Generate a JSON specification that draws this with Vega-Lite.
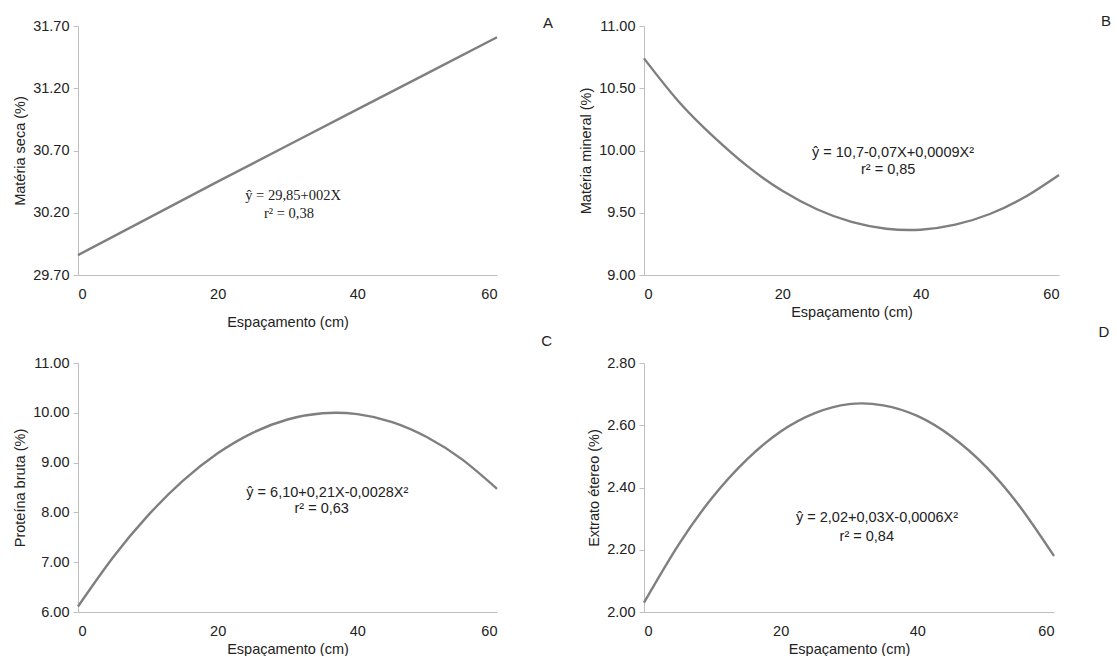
{
  "$schema": "https://vega.github.io/schema/vega-lite/v6.json",
  "background": "white",
  "padding": {"left": 12, "top": 14, "right": 0, "bottom": 0},
  "autosize": {"type": "pad"},
  "bounds": "flush",
  "columns": 2,
  "spacing": {"row": 88, "column": 147},
  "config": {
    "view": {"stroke": null},
    "font": "Liberation Sans",
    "axis": {
      "grid": false,
      "labelFont": "Liberation Sans",
      "labelFontSize": 14.5,
      "labelColor": "#222222",
      "titleFont": "Liberation Sans",
      "titleFontSize": 14.5,
      "titleFontWeight": "normal",
      "titleColor": "#222222",
      "domainColor": "#bfbfbf",
      "tickColor": "#bfbfbf"
    },
    "axisX": {"ticks": false, "labelPadding": 12},
    "axisY": {"tickSize": 5, "labelPadding": 4, "titlePadding": 5}
  },
  "concat": [
    {
      "width": 419,
      "height": 249,
      "layer": [
        {
          "data": {"values": [
            {"x": 0, "y": 29.86}, {"x": 10, "y": 30.155}, {"x": 20, "y": 30.45},
            {"x": 30, "y": 30.74}, {"x": 40, "y": 31.03}, {"x": 50, "y": 31.32}, {"x": 60, "y": 31.61}
          ]},
          "mark": {"type": "line", "color": "#7f7f7f", "strokeWidth": 2.4},
          "encoding": {
            "x": {"field": "x", "type": "quantitative", "scale": {"domain": [0, 60], "nice": false},
                  "axis": {"title": "Espaçamento (cm)", "values": [0, 20, 40, 60], "titlePadding": 15}},
            "y": {"field": "y", "type": "quantitative", "scale": {"domain": [29.7, 31.7], "nice": false, "zero": false},
                  "axis": {"title": "Matéria seca (%)", "values": [29.7, 30.2, 30.7, 31.2, 31.7], "format": ".2f"}}
          }
        },
        {
          "data": {"values": [{}]},
          "mark": {"type": "text", "text": "A", "fontSize": 15, "color": "#222222", "align": "center", "baseline": "middle"},
          "encoding": {"x": {"datum": 67.3}, "y": {"datum": 31.724}}
        },
        {
          "data": {"values": [{}]},
          "mark": {"type": "text", "text": "ŷ = 29,85+002X", "font": "Liberation Serif", "fontSize": 14.5, "color": "#222222", "align": "center", "baseline": "middle"},
          "encoding": {"x": {"datum": 30.8}, "y": {"datum": 30.335}}
        },
        {
          "data": {"values": [{}]},
          "mark": {"type": "text", "text": "r² = 0,38", "font": "Liberation Serif", "fontSize": 14.5, "color": "#222222", "align": "center", "baseline": "middle"},
          "encoding": {"x": {"datum": 30.2}, "y": {"datum": 30.19}}
        }
      ]
    },
    {
      "width": 415,
      "height": 249,
      "layer": [
        {
          "data": {"values": [
            {"x": 0, "y": 10.74}, {"x": 5, "y": 10.394}, {"x": 10, "y": 10.114}, {"x": 15, "y": 9.872},
            {"x": 20, "y": 9.676}, {"x": 25, "y": 9.528}, {"x": 30, "y": 9.426}, {"x": 35, "y": 9.372},
            {"x": 40, "y": 9.364}, {"x": 45, "y": 9.404}, {"x": 50, "y": 9.49}, {"x": 55, "y": 9.624}, {"x": 60, "y": 9.804}
          ]},
          "mark": {"type": "line", "color": "#7f7f7f", "strokeWidth": 2.4, "interpolate": "natural"},
          "encoding": {
            "x": {"field": "x", "type": "quantitative", "scale": {"domain": [0, 60], "nice": false},
                  "axis": {"title": "Espaçamento (cm)", "values": [0, 20, 40, 60], "titlePadding": 5}},
            "y": {"field": "y", "type": "quantitative", "scale": {"domain": [9, 11], "nice": false, "zero": false},
                  "axis": {"title": "Matéria mineral (%)", "values": [9, 9.5, 10, 10.5, 11], "format": ".2f"}}
          }
        },
        {
          "data": {"values": [{}]},
          "mark": {"type": "text", "text": "B", "fontSize": 15, "color": "#222222", "align": "center", "baseline": "middle"},
          "encoding": {"x": {"datum": 66.8}, "y": {"datum": 11.04}}
        },
        {
          "data": {"values": [{}]},
          "mark": {"type": "text", "text": "ŷ = 10,7-0,07X+0,0009X²", "fontSize": 14.5, "color": "#222222", "align": "center", "baseline": "middle"},
          "encoding": {"x": {"datum": 36.0}, "y": {"datum": 9.98}}
        },
        {
          "data": {"values": [{}]},
          "mark": {"type": "text", "text": "r² = 0,85", "fontSize": 14.5, "color": "#222222", "align": "center", "baseline": "middle"},
          "encoding": {"x": {"datum": 35.3}, "y": {"datum": 9.843}}
        }
      ]
    },
    {
      "width": 419,
      "height": 249,
      "layer": [
        {
          "data": {"values": [
            {"x": 0, "y": 6.11}, {"x": 5, "y": 7.094}, {"x": 10, "y": 7.935}, {"x": 15, "y": 8.632},
            {"x": 20, "y": 9.186}, {"x": 25, "y": 9.598}, {"x": 30, "y": 9.866}, {"x": 35, "y": 9.992},
            {"x": 40, "y": 9.974}, {"x": 45, "y": 9.814}, {"x": 50, "y": 9.51}, {"x": 55, "y": 9.064}, {"x": 60, "y": 8.474}
          ]},
          "mark": {"type": "line", "color": "#7f7f7f", "strokeWidth": 2.4, "interpolate": "natural"},
          "encoding": {
            "x": {"field": "x", "type": "quantitative", "scale": {"domain": [0, 60], "nice": false},
                  "axis": {"title": "Espaçamento (cm)", "values": [0, 20, 40, 60], "titlePadding": 5}},
            "y": {"field": "y", "type": "quantitative", "scale": {"domain": [6, 11], "nice": false, "zero": false},
                  "axis": {"title": "Proteína  bruta (%)", "values": [6, 7, 8, 9, 10, 11], "format": ".2f"}}
          }
        },
        {
          "data": {"values": [{}]},
          "mark": {"type": "text", "text": "C", "fontSize": 15, "color": "#222222", "align": "center", "baseline": "middle"},
          "encoding": {"x": {"datum": 67.1}, "y": {"datum": 11.44}}
        },
        {
          "data": {"values": [{}]},
          "mark": {"type": "text", "text": "ŷ = 6,10+0,21X-0,0028X²", "fontSize": 14.5, "color": "#222222", "align": "center", "baseline": "middle"},
          "encoding": {"x": {"datum": 35.7}, "y": {"datum": 8.39}}
        },
        {
          "data": {"values": [{}]},
          "mark": {"type": "text", "text": "r² = 0,63", "fontSize": 14.5, "color": "#222222", "align": "center", "baseline": "middle"},
          "encoding": {"x": {"datum": 34.9}, "y": {"datum": 8.07}}
        }
      ]
    },
    {
      "width": 410,
      "height": 249,
      "layer": [
        {
          "data": {"values": [
            {"x": 0, "y": 2.03}, {"x": 5, "y": 2.214}, {"x": 10, "y": 2.368}, {"x": 15, "y": 2.489},
            {"x": 20, "y": 2.58}, {"x": 25, "y": 2.639}, {"x": 30, "y": 2.668}, {"x": 35, "y": 2.664},
            {"x": 40, "y": 2.63}, {"x": 45, "y": 2.564}, {"x": 50, "y": 2.468}, {"x": 55, "y": 2.339}, {"x": 60, "y": 2.18}
          ]},
          "mark": {"type": "line", "color": "#7f7f7f", "strokeWidth": 2.4, "interpolate": "natural"},
          "encoding": {
            "x": {"field": "x", "type": "quantitative", "scale": {"domain": [0, 60], "nice": false},
                  "axis": {"title": "Espaçamento (cm)", "values": [0, 20, 40, 60], "titlePadding": 5}},
            "y": {"field": "y", "type": "quantitative", "scale": {"domain": [2, 2.8], "nice": false, "zero": false},
                  "axis": {"title": "Extrato étereo (%)", "values": [2, 2.2, 2.4, 2.6, 2.8], "format": ".2f"}}
          }
        },
        {
          "data": {"values": [{}]},
          "mark": {"type": "text", "text": "D", "fontSize": 15, "color": "#222222", "align": "center", "baseline": "middle"},
          "encoding": {"x": {"datum": 67.3}, "y": {"datum": 2.90}}
        },
        {
          "data": {"values": [{}]},
          "mark": {"type": "text", "text": "ŷ = 2,02+0,03X-0,0006X²", "fontSize": 14.5, "color": "#222222", "align": "center", "baseline": "middle"},
          "encoding": {"x": {"datum": 34.1}, "y": {"datum": 2.303}}
        },
        {
          "data": {"values": [{}]},
          "mark": {"type": "text", "text": "r² = 0,84", "fontSize": 14.5, "color": "#222222", "align": "center", "baseline": "middle"},
          "encoding": {"x": {"datum": 32.6}, "y": {"datum": 2.242}}
        }
      ]
    }
  ]
}
